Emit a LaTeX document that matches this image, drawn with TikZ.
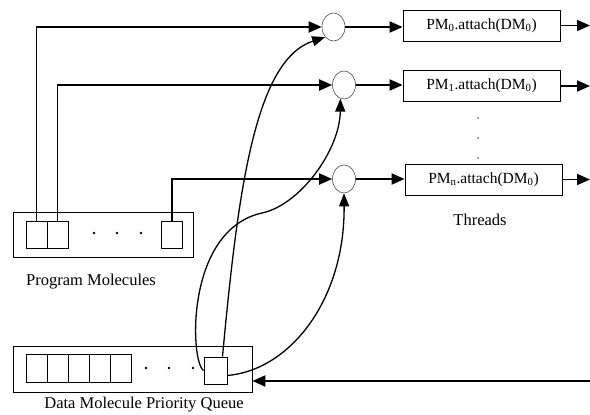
\documentclass[tikz,border=0pt]{standalone}
\usepackage{fontspec}
\setmainfont{Liberation Serif}
\usetikzlibrary{shapes.geometric,arrows.meta,positioning,calc}

\begin{document}
\begin{tikzpicture}[x=1pt,y=-1pt,
    conn/.style={line width=1.9pt,-{Triangle[length=13pt,width=11pt]}},
    curvelink/.style={line width=1.3pt,-{Triangle[length=13pt,width=10pt]}},
    cell/.style={draw,line width=0.8pt,minimum width=21pt,minimum height=27pt,inner sep=0pt},
    frame/.style={draw,line width=0.8pt,inner sep=0pt},
    joiner/.style={draw=black!70,line width=0.6pt,ellipse,minimum width=23pt,minimum height=28pt,inner sep=0pt},
    thread/.style={draw,line width=0.8pt,minimum width=157pt,minimum height=31pt,inner sep=0pt,font=\fontsize{15.5}{17}\selectfont},
    lbl/.style={font=\fontsize{16.5}{19}\selectfont},
    smalldot/.style={fill,circle,inner sep=0pt,minimum size=2.8pt}]
    \useasboundingbox (0,0) rectangle (590,415);

    % program molecules
    \node[frame,minimum width=180pt,minimum height=45pt] (pmbox) at (103,234.5) {};
    \node[cell] (pm1) at (36.5,234.5) {};
    \node[cell] (pm2) at (57.5,234.5) {};
    \node[cell] (pmn) at (172,234.5) {};
    \foreach \x in {94,117,141} \node[smalldot] at (\x,233) {};
    \node[lbl] (pmlabel) at (91,282) {Program Molecules};

    % data molecule priority queue
    \node[frame,minimum width=239pt,minimum height=46pt] (dq) at (132.5,369) {};
    \foreach \i in {1,...,5} \node[cell,minimum height=28pt] (dq\i) at (15.5+21*\i,368) {};
    \foreach \x in {146,169,193} \node[smalldot] at (\x,368) {};
    \node[cell,minimum width=23pt] (dl) at (215.5,370.5) {};
    \node[lbl] (dqlabel) at (144,405) {Data Molecule Priority Queue};

    % joins and threads
    \node[joiner] (c0) at (333.5,27) {};
    \node[joiner] (c1) at (344,85) {};
    \node[joiner] (c2) at (344,179) {};
    \node[thread] (t0) at (481.5,25.5) {PM\textsubscript{0}.attach(DM\textsubscript{0})};
    \node[thread] (t1) at (481.5,86) {PM\textsubscript{1}.attach(DM\textsubscript{0})};
    \node[thread] (tn) at (483.5,179.5) {PM\textsubscript{n}.attach(DM\textsubscript{0})};
    \foreach \y in {118,138,158} \node[smalldot,minimum size=1.5pt] at (478,\y) {};
    \node[lbl] (thlabel) at (480,220) {Threads};

    % connectors
    \draw[conn] (pm1.north) |- (c0.west);
    \draw[conn] (pm2.north) |- (c1.west);
    \draw[conn] (pmn.north) |- (c2.west);
    \foreach \a/\b in {c0/t0,c1/t1,c2/tn}
      \draw[conn] (\a.east) -- (\a.east -| \b.west);
    \coordinate (rim) at (590,0);
    \foreach \b in {t0,t1,tn}
      \draw[conn] (\b.east) -- (\b.east -| rim);
    \coordinate (back) at (590,381);
    \draw[conn] (back) -- (back -| dq.east);

    % queue head to the joins
    \draw[curvelink] ([xshift=7pt]dl.north) .. controls (238,190) and (255,60) .. (c0.south west);
    \draw[curvelink] (dl.west) .. controls (190,362) and (185,230) .. (262,213)
      .. controls (300,205) and (340,150) .. (c1.255);
    \draw[curvelink] ([yshift=-5pt]dl.east) .. controls (290,370) and (345,300) .. (c2.south);
\end{tikzpicture}
\end{document}
